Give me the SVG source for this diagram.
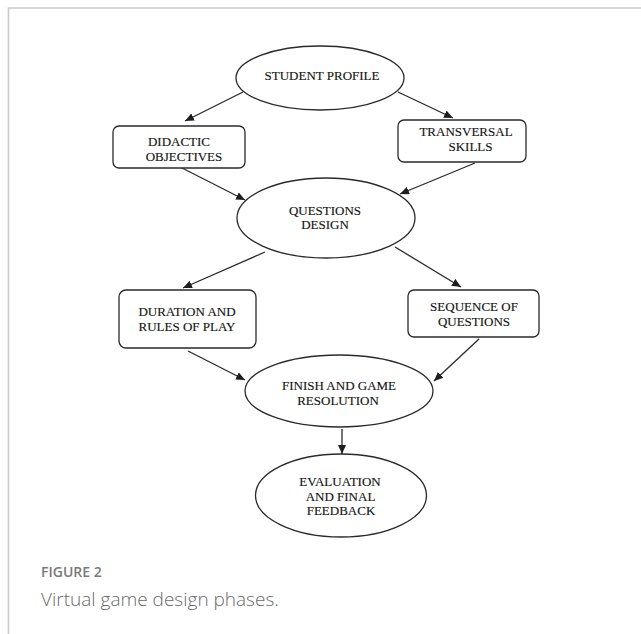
<svg xmlns="http://www.w3.org/2000/svg" width="641" height="634" viewBox="0 0 641 634">
<defs>
<style>
.shape{fill:#fff;stroke:#2a2a2a;stroke-width:1.3}
.lbl{font-family:"Liberation Serif","Times New Roman",serif;font-size:13px;fill:#151515;stroke:#151515;stroke-width:0.15;text-anchor:middle}
.conn{stroke:#2a2a2a;stroke-width:1.3;fill:none;marker-end:url(#ah)}
.frame{stroke:#cbcbcb;stroke-width:1.6;fill:none}
</style>
<marker id="ah" markerUnits="userSpaceOnUse" markerWidth="10" markerHeight="8" refX="9" refY="4" orient="auto">
<path d="M0,0 L9,4 L0,8 z" fill="#1e1e1e"/>
</marker>
</defs>
<rect width="641" height="634" fill="#fff"/>
<path class="frame" d="M8.5,634 V8 H641"/>

<g id="connectors">
<line class="conn" x1="243" y1="92" x2="185" y2="121"/>
<line class="conn" x1="398" y1="92" x2="453" y2="118"/>
<line class="conn" x1="182" y1="168" x2="245" y2="200"/>
<line class="conn" x1="475" y1="163" x2="400" y2="194"/>
<line class="conn" x1="265" y1="252" x2="183" y2="288"/>
<line class="conn" x1="395" y1="247" x2="461" y2="287"/>
<line class="conn" x1="188" y1="351" x2="245" y2="380"/>
<line class="conn" x1="479" y1="339" x2="434" y2="381"/>
<line class="conn" x1="342" y1="429" x2="342" y2="454"/>
</g>

<g id="student-profile">
<ellipse class="shape" cx="320" cy="78" rx="84" ry="32"/>
<text class="lbl" x="322" y="79.5">STUDENT PROFILE</text>
</g>

<g id="didactic-objectives">
<rect class="shape" x="113" y="126" width="132" height="42" rx="6"/>
<text class="lbl" x="179" y="146">DIDACTIC</text>
<text class="lbl" x="184" y="160.5">OBJECTIVES</text>
</g>

<g id="transversal-skills">
<rect class="shape" x="398" y="120" width="128" height="42" rx="6"/>
<text class="lbl" x="466" y="136">TRANSVERSAL</text>
<text class="lbl" x="470.5" y="150.5">SKILLS</text>
</g>

<g id="questions-design">
<ellipse class="shape" cx="326" cy="218" rx="89" ry="40"/>
<text class="lbl" x="325" y="214.5">QUESTIONS</text>
<text class="lbl" x="325" y="229">DESIGN</text>
</g>

<g id="duration-rules">
<rect class="shape" x="119" y="290" width="137" height="58" rx="7"/>
<text class="lbl" x="187" y="315.5">DURATION AND</text>
<text class="lbl" x="187" y="331">RULES OF PLAY</text>
</g>

<g id="sequence-questions">
<rect class="shape" x="408" y="290" width="131" height="47" rx="6"/>
<text class="lbl" x="474" y="311">SEQUENCE OF</text>
<text class="lbl" x="474" y="325.5">QUESTIONS</text>
</g>

<g id="finish-resolution">
<ellipse class="shape" cx="339" cy="391" rx="94" ry="36"/>
<text class="lbl" x="339" y="389.5">FINISH AND GAME</text>
<text class="lbl" x="338" y="404.5">RESOLUTION</text>
</g>

<g id="evaluation-feedback">
<ellipse class="shape" cx="341" cy="495.5" rx="85.5" ry="41.5"/>
<text class="lbl" x="340" y="486">EVALUATION</text>
<text class="lbl" x="340.5" y="501">AND FINAL</text>
<text class="lbl" x="341" y="515">FEEDBACK</text>
</g>

<g id="caption">
<text x="41" y="577" font-family="'Open Sans','Noto Sans',sans-serif" font-size="14" font-weight="600" fill="#7a7a7a">FIGURE 2</text>
<text x="41" y="605.5" font-family="'Open Sans','Noto Sans',sans-serif" font-size="19" font-weight="300" fill="#6a6a6a">Virtual game design phases.</text>
</g>
</svg>
